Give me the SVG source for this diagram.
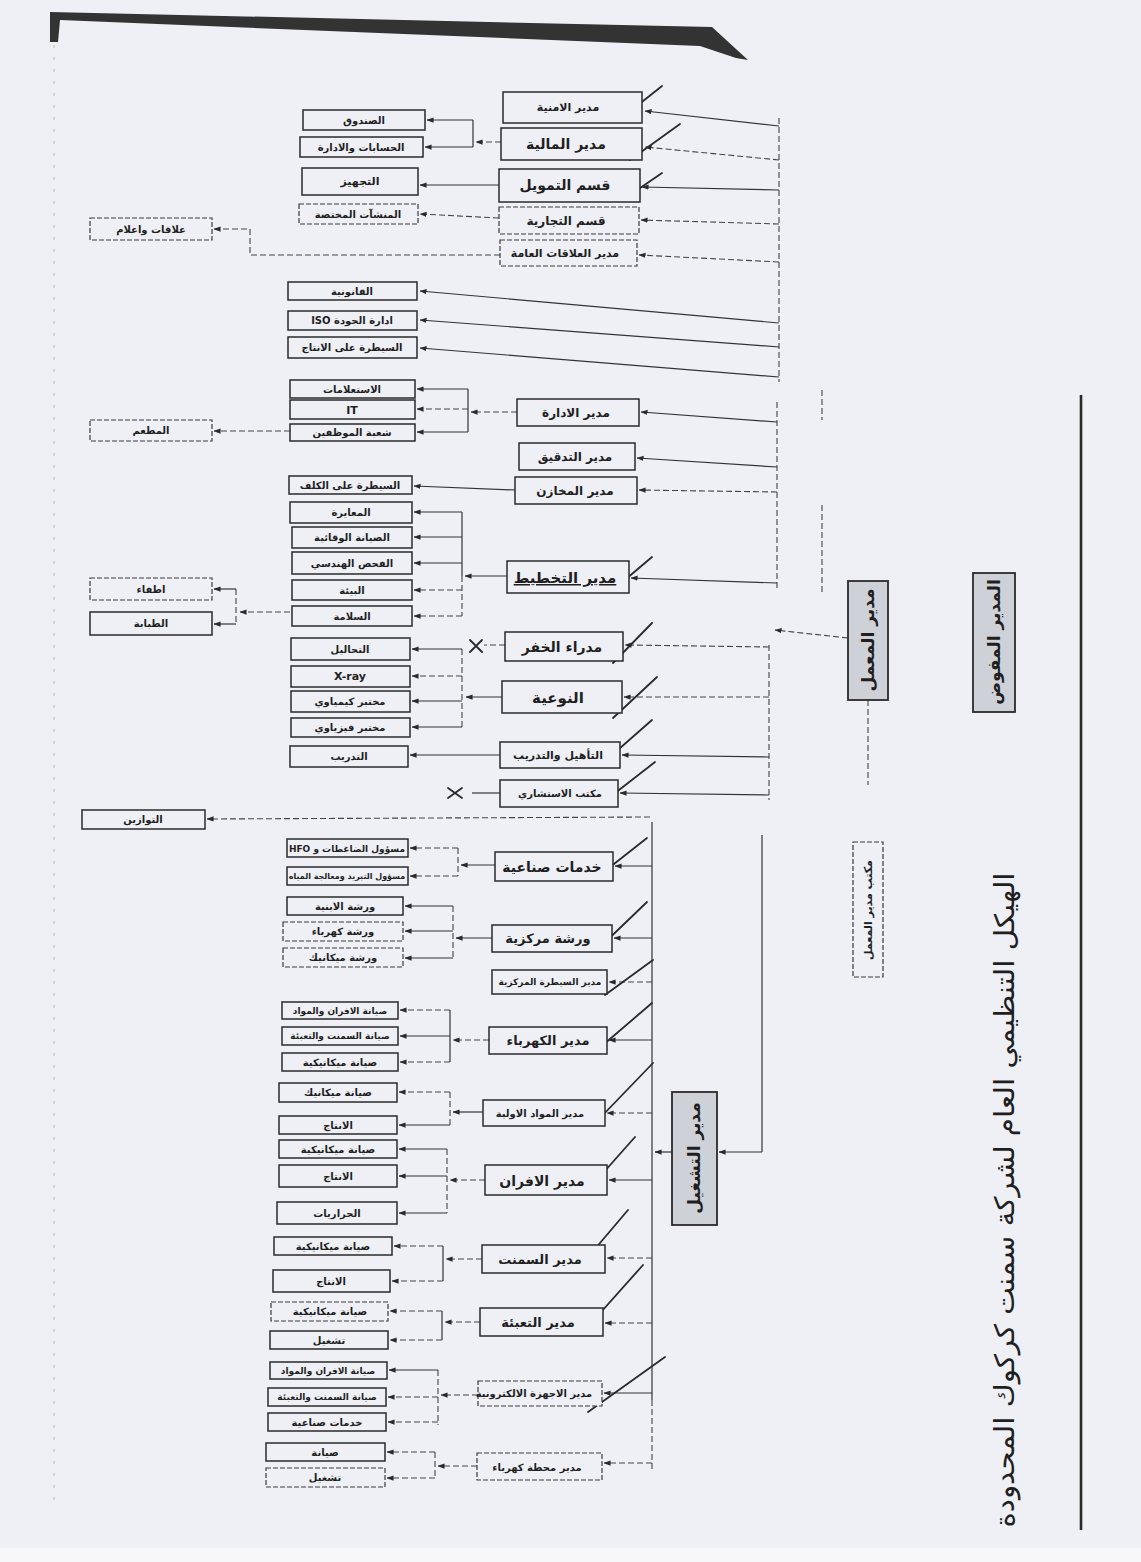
<svg xmlns="http://www.w3.org/2000/svg" width="1141" height="1562" viewBox="0 0 1141 1562">
<style>
.b{fill:#eef0f6;stroke:#2a2a2a;stroke-width:1.5}
.bd{fill:#eef0f6;stroke:#3a3a3a;stroke-width:1.2;stroke-dasharray:5 2}
.g{fill:#cfd1d8;stroke:#2a2a2a;stroke-width:1.8}
.t{font-family:"DejaVu Sans",sans-serif;font-weight:bold;fill:#1f1f1f;text-anchor:middle}
.title{font-family:"DejaVu Sans",sans-serif;font-weight:normal;fill:#1f1f1f;text-anchor:middle}
.l{fill:none;stroke:#333;stroke-width:1.2}
.d{fill:none;stroke:#444;stroke-width:1.1;stroke-dasharray:6 3}
.p{fill:none;stroke:#2a2a2a;stroke-width:1.8;stroke-linecap:round}
</style>
<defs>
<marker id="a" viewBox="0 0 8 8" refX="7.5" refY="4" markerWidth="7" markerHeight="7" markerUnits="userSpaceOnUse" orient="auto"><path d="M0,1 L8,4 L0,7 z" fill="#2a2a2a"/></marker>
</defs>
<rect width="1141" height="1562" fill="#eef0f6"/>
<rect x="0" y="1548" width="1141" height="14" fill="#f7f7f9"/>
<polygon points="50,12 712,27 748,60 736,58 700,46 60,20 58,42 50,42" fill="#333"/>
<line x1="54" y1="45" x2="54" y2="1500" stroke="#b8bac2" stroke-width="1" stroke-dasharray="3 9"/>
<line x1="1081" y1="395" x2="1081" y2="1530" stroke="#2a2a2a" stroke-width="2.6"/>
<text class="title" font-size="27" transform="translate(1014,1200) rotate(-90)" textLength="655" lengthAdjust="spacingAndGlyphs">الهيكل التنظيمي العام لشركة سمنت كركوك المحدودة</text>

<g id="connectors">
<path class="d" d="M779,118 V382"/>
<path class="d" d="M777,402 V590"/>
<path class="d" d="M822,390 V420 M822,505 V592"/>
<path class="d" d="M769,645 V800"/>
<path class="d" d="M868,700 V785"/>
<path class="l" d="M762,835 V1152"/>
<path class="l" d="M652,822 V1400"/>
<path class="d" d="M652,1400 V1470"/>
<path class="d" d="M848,638 L775,630" marker-end="url(#a)"/>
<path class="l" d="M762,1152 H719" marker-end="url(#a)"/>
<path class="l" d="M672,1152 H655" marker-end="url(#a)"/>
<path class="l" d="M779,126 L645,111" marker-end="url(#a)"/>
<path class="d" d="M779,160 L645,147" marker-end="url(#a)"/>
<path class="l" d="M779,190 L642,187" marker-end="url(#a)"/>
<path class="d" d="M779,224 L641,220" marker-end="url(#a)"/>
<path class="d" d="M779,262 L639,255" marker-end="url(#a)"/>
<path class="l" d="M779,323 L420,291" marker-end="url(#a)"/>
<path class="l" d="M779,347 L420,320" marker-end="url(#a)"/>
<path class="l" d="M779,377 L420,348" marker-end="url(#a)"/>
<path class="l" d="M777,422 L641,412" marker-end="url(#a)"/>
<path class="l" d="M777,467 L637,458" marker-end="url(#a)"/>
<path class="d" d="M777,492 L639,490" marker-end="url(#a)"/>
<path class="l" d="M777,583 L631,578" marker-end="url(#a)"/>
<path class="d" d="M769,647 L625,645" marker-end="url(#a)"/>
<path class="d" d="M769,697 L624,697" marker-end="url(#a)"/>
<path class="l" d="M769,757 L622,755" marker-end="url(#a)"/>
<path class="l" d="M769,795 L620,793" marker-end="url(#a)"/>
<path class="d" d="M501,142 H476" marker-end="url(#a)"/>
<path class="l" d="M473,120 V147"/>
<path class="l" d="M473,120 H427" marker-end="url(#a)"/>
<path class="l" d="M473,147 H425" marker-end="url(#a)"/>
<path class="l" d="M499,185 H420" marker-end="url(#a)"/>
<path class="d" d="M499,218 L420,214" marker-end="url(#a)"/>
<path class="d" d="M500,255 H250 V229 H214" marker-end="url(#a)"/>
<path class="d" d="M517,412 H471" marker-end="url(#a)"/>
<path class="l" d="M468,389 V432"/>
<path class="l" d="M468,389 H417" marker-end="url(#a)"/>
<path class="d" d="M468,409 H417" marker-end="url(#a)"/>
<path class="l" d="M468,432 H417" marker-end="url(#a)"/>
<path class="d" d="M290,431 H214" marker-end="url(#a)"/>
<path class="l" d="M515,490 L414,486" marker-end="url(#a)"/>
<path class="l" d="M507,576 H465" marker-end="url(#a)"/>
<path class="l" d="M462,512 V576"/>
<path class="d" d="M462,576 V616"/>
<path class="l" d="M462,512 H414" marker-end="url(#a)"/>
<path class="l" d="M462,537 H414" marker-end="url(#a)"/>
<path class="l" d="M462,563 H414" marker-end="url(#a)"/>
<path class="d" d="M462,590 H414" marker-end="url(#a)"/>
<path class="d" d="M462,616 H414" marker-end="url(#a)"/>
<path class="d" d="M290,612 H240" marker-end="url(#a)"/>
<path class="d" d="M236,589 V624"/>
<path class="l" d="M236,589 H214" marker-end="url(#a)"/>
<path class="l" d="M236,624 H214" marker-end="url(#a)"/>
<path class="d" d="M505,645 H484"/>
<path class="l" d="M502,697 H466" marker-end="url(#a)"/>
<path class="d" d="M462,649 V727"/>
<path class="l" d="M462,649 H412" marker-end="url(#a)"/>
<path class="d" d="M462,676 H412" marker-end="url(#a)"/>
<path class="l" d="M462,701 H412" marker-end="url(#a)"/>
<path class="l" d="M462,727 H412" marker-end="url(#a)"/>
<path class="l" d="M500,755 H410" marker-end="url(#a)"/>
<path class="l" d="M500,793 H472"/>
<path class="d" d="M650,817 L207,819" marker-end="url(#a)"/>
<path class="l" d="M652,866 H615" marker-end="url(#a)"/>
<path class="l" d="M652,938 H614" marker-end="url(#a)"/>
<path class="d" d="M652,982 H609" marker-end="url(#a)"/>
<path class="l" d="M652,1040 H609" marker-end="url(#a)"/>
<path class="d" d="M652,1113 H607" marker-end="url(#a)"/>
<path class="l" d="M652,1180 H609" marker-end="url(#a)"/>
<path class="d" d="M652,1258 H607" marker-end="url(#a)"/>
<path class="d" d="M652,1323 H605" marker-end="url(#a)"/>
<path class="l" d="M652,1393 H604" marker-end="url(#a)"/>
<path class="d" d="M652,1463 H604" marker-end="url(#a)"/>
<path class="l" d="M495,865 H461" marker-end="url(#a)"/>
<path class="d" d="M458,848 V876"/>
<path class="d" d="M458,848 H410" marker-end="url(#a)"/>
<path class="d" d="M458,876 H410" marker-end="url(#a)"/>
<path class="l" d="M492,938 H456" marker-end="url(#a)"/>
<path class="d" d="M453,906 V958"/>
<path class="l" d="M453,906 H405" marker-end="url(#a)"/>
<path class="l" d="M453,931 H405" marker-end="url(#a)"/>
<path class="l" d="M453,958 H405" marker-end="url(#a)"/>
<path class="d" d="M489,1040 H453" marker-end="url(#a)"/>
<path class="l" d="M450,1010 V1062"/>
<path class="d" d="M450,1010 H400" marker-end="url(#a)"/>
<path class="l" d="M450,1036 H400" marker-end="url(#a)"/>
<path class="d" d="M450,1062 H400" marker-end="url(#a)"/>
<path class="l" d="M483,1112 H453" marker-end="url(#a)"/>
<path class="d" d="M450,1092 V1125"/>
<path class="d" d="M450,1092 H399" marker-end="url(#a)"/>
<path class="l" d="M450,1125 H399" marker-end="url(#a)"/>
<path class="d" d="M485,1180 H450" marker-end="url(#a)"/>
<path class="d" d="M447,1149 V1213"/>
<path class="l" d="M447,1149 H399" marker-end="url(#a)"/>
<path class="l" d="M447,1176 H399" marker-end="url(#a)"/>
<path class="l" d="M447,1213 H399" marker-end="url(#a)"/>
<path class="d" d="M482,1259 H446" marker-end="url(#a)"/>
<path class="l" d="M443,1246 V1281"/>
<path class="d" d="M443,1246 H394" marker-end="url(#a)"/>
<path class="d" d="M443,1281 H392" marker-end="url(#a)"/>
<path class="d" d="M480,1322 H445" marker-end="url(#a)"/>
<path class="l" d="M442,1311 V1340"/>
<path class="d" d="M442,1311 H390" marker-end="url(#a)"/>
<path class="d" d="M442,1340 H390" marker-end="url(#a)"/>
<path class="d" d="M478,1395 H441" marker-end="url(#a)"/>
<path class="d" d="M438,1370 V1425"/>
<path class="l" d="M438,1370 H389" marker-end="url(#a)"/>
<path class="d" d="M438,1397 H388" marker-end="url(#a)"/>
<path class="d" d="M438,1422 H388" marker-end="url(#a)"/>
<path class="d" d="M477,1466 H438" marker-end="url(#a)"/>
<path class="d" d="M435,1452 V1478"/>
<path class="d" d="M435,1452 H387" marker-end="url(#a)"/>
<path class="d" d="M435,1478 H387" marker-end="url(#a)"/>
</g>

<g id="pen-marks">
<path class="p" d="M623,117 L662,86 M630,160 L680,124 M627,197 L662,173 M613,590 L652,557 M613,663 L652,623 M613,718 L657,677 M603,763 L652,720 M610,797 L655,762 M600,875 L647,838 M597,950 L647,902 M605,995 L653,960 M603,1045 L652,1003 M600,1118 L653,1063 M588,1190 L635,1137 M583,1263 L628,1210 M585,1330 L643,1265 M588,1412 L665,1357"/>
<path class="p" stroke-width="1.3" d="M470,640 L482,652 M470,652 L482,640 M448,788 L462,798 M448,798 L462,788"/>
</g>

<g id="n_mofawad"><rect class="g" x="973" y="573" width="42" height="139"/><text class="t" font-size="17" transform="translate(1000,642) rotate(-90)">المدير المفوض</text></g>
<g id="n_maamal"><rect class="g" x="848" y="581" width="40" height="119"/><text class="t" font-size="17" transform="translate(874,640) rotate(-90)">مدير المعمل</text></g>
<g id="n_maktab"><rect class="bd" x="853" y="842" width="30" height="135"/><text class="t" font-size="11" transform="translate(872,910) rotate(-90)">مكتب مدير المعمل</text></g>
<g id="n_tashgheel"><rect class="g" x="672" y="1092" width="45" height="133"/><text class="t" font-size="17" transform="translate(700,1158) rotate(-90)">مدير التشغيل</text></g>

<g id="n_amn"><rect class="b" x="503" y="92" width="139" height="31"/><text class="t" font-size="11" x="568" y="111">مدير الامنية</text></g>
<g id="n_mal"><rect class="b" x="501" y="128" width="141" height="32"/><text class="t" font-size="14" x="566" y="149">مدير المالية</text></g>
<g id="n_tam"><rect class="b" x="499" y="169" width="141" height="33"/><text class="t" font-size="14" x="565" y="190">قسم التمويل</text></g>
<g id="n_tij"><rect class="bd" x="499" y="207" width="140" height="27"/><text class="t" font-size="12" x="566" y="225">قسم التجارية</text></g>
<g id="n_ala"><rect class="bd" x="500" y="240" width="137" height="26"/><text class="t" font-size="11" x="565" y="257">مدير العلاقات العامة</text></g>
<g id="c_sand"><rect class="b" x="303" y="110" width="122" height="20"/><text class="t" font-size="10" x="364" y="124">الصندوق</text></g>
<g id="c_hes"><rect class="b" x="300" y="137" width="123" height="20"/><text class="t" font-size="10" x="361" y="151">الحسابات والادارة</text></g>
<g id="c_taj"><rect class="b" x="302" y="168" width="116" height="27"/><text class="t" font-size="11" x="360" y="185">التجهيز</text></g>
<g id="c_mun"><rect class="bd" x="299" y="204" width="119" height="20"/><text class="t" font-size="10" x="358" y="218">المنشآت المختصة</text></g>
<g id="c_ilam"><rect class="bd" x="90" y="218" width="122" height="22"/><text class="t" font-size="10" x="151" y="233">علاقات واعلام</text></g>
<g id="c_qan"><rect class="b" x="288" y="282" width="129" height="18"/><text class="t" font-size="10" x="352" y="295">القانونية</text></g>
<g id="c_iso"><rect class="b" x="288" y="311" width="129" height="19"/><text class="t" font-size="10" x="352" y="324" direction="rtl">ادارة الجودة ISO</text></g>
<g id="c_say"><rect class="b" x="288" y="337" width="129" height="21"/><text class="t" font-size="10" x="352" y="351">السيطرة على الانتاج</text></g>
<g id="c_ist"><rect class="b" x="290" y="380" width="125" height="18"/><text class="t" font-size="10" x="352" y="393">الاستعلامات</text></g>
<g id="c_it"><rect class="b" x="290" y="400" width="125" height="19"/><text class="t" font-size="11" x="352" y="414">IT</text></g>
<g id="c_muw"><rect class="b" x="290" y="424" width="125" height="17"/><text class="t" font-size="10" x="352" y="436">شعبة الموظفين</text></g>
<g id="c_mat"><rect class="bd" x="90" y="420" width="122" height="21"/><text class="t" font-size="10" x="151" y="434">المطعم</text></g>
<g id="n_ida"><rect class="b" x="517" y="399" width="122" height="27"/><text class="t" font-size="12" x="576" y="417">مدير الادارة</text></g>
<g id="n_tad"><rect class="b" x="519" y="443" width="116" height="27"/><text class="t" font-size="12" x="575" y="461">مدير التدقيق</text></g>
<g id="n_mak"><rect class="b" x="515" y="477" width="122" height="27"/><text class="t" font-size="12" x="575" y="495">مدير المخازن</text></g>
<g id="c_kul"><rect class="b" x="289" y="476" width="123" height="18"/><text class="t" font-size="10" x="350" y="489">السيطرة على الكلف</text></g>
<g id="c_mua"><rect class="b" x="290" y="502" width="122" height="21"/><text class="t" font-size="10" x="351" y="516">المعايرة</text></g>
<g id="c_siw"><rect class="b" x="292" y="527" width="120" height="21"/><text class="t" font-size="10" x="352" y="541">الصيانة الوقائية</text></g>
<g id="c_fah"><rect class="b" x="292" y="552" width="120" height="22"/><text class="t" font-size="10" x="352" y="567">الفحص الهندسي</text></g>
<g id="c_bia"><rect class="b" x="292" y="580" width="120" height="20"/><text class="t" font-size="10" x="352" y="594">البيئة</text></g>
<g id="c_sal"><rect class="b" x="292" y="606" width="120" height="20"/><text class="t" font-size="10" x="352" y="620">السلامة</text></g>
<g id="c_itf"><rect class="bd" x="90" y="578" width="122" height="22"/><text class="t" font-size="10" x="151" y="593">اطفاء</text></g>
<g id="c_tab"><rect class="b" x="90" y="612" width="122" height="23"/><text class="t" font-size="10" x="151" y="627">الطبابة</text></g>
<g id="n_tak"><rect class="b" x="507" y="561" width="122" height="32"/><text class="t" font-size="15" x="565" y="583" text-decoration="underline">مدير التخطيط</text></g>
<g id="n_khf"><rect class="b" x="505" y="632" width="118" height="29"/><text class="t" font-size="14" x="562" y="652">مدراء الخفر</text></g>
<g id="n_naw"><rect class="b" x="502" y="681" width="120" height="32"/><text class="t" font-size="15" x="558" y="703">النوعية</text></g>
<g id="c_tah"><rect class="b" x="291" y="638" width="119" height="22"/><text class="t" font-size="10" x="350" y="653">التحاليل</text></g>
<g id="c_xr"><rect class="b" x="291" y="666" width="119" height="21"/><text class="t" font-size="11" x="350" y="680">X-ray</text></g>
<g id="c_kim"><rect class="b" x="291" y="691" width="119" height="21"/><text class="t" font-size="10" x="350" y="705">مختبر كيمياوي</text></g>
<g id="c_fiz"><rect class="b" x="291" y="718" width="119" height="19"/><text class="t" font-size="10" x="350" y="731">مختبر فيزياوي</text></g>
<g id="c_tdr"><rect class="b" x="290" y="746" width="118" height="21"/><text class="t" font-size="10" x="349" y="760">التدريب</text></g>
<g id="n_taa"><rect class="b" x="500" y="742" width="120" height="26"/><text class="t" font-size="11" x="558" y="759">التأهيل والتدريب</text></g>
<g id="n_ist"><rect class="b" x="500" y="780" width="118" height="27"/><text class="t" font-size="10" x="560" y="797">مكتب الاستشاري</text></g>
<g id="c_taw"><rect class="b" x="82" y="810" width="123" height="19"/><text class="t" font-size="10" x="143" y="823">التوازين</text></g>

<g id="n_khd"><rect class="b" x="495" y="852" width="118" height="29"/><text class="t" font-size="14" x="552" y="872">خدمات صناعية</text></g>
<g id="c_daq"><rect class="b" x="287" y="839" width="121" height="18"/><text class="t" font-size="9" x="347" y="852" direction="rtl">مسؤول الضاغطات و HFO</text></g>
<g id="c_tbr"><rect class="b" x="287" y="867" width="121" height="18"/><text class="t" font-size="8" x="347" y="879">مسؤول التبريد ومعالجة المياه</text></g>
<g id="c_abn"><rect class="b" x="287" y="897" width="116" height="18"/><text class="t" font-size="10" x="345" y="910">ورشة الابنية</text></g>
<g id="c_kah"><rect class="bd" x="283" y="922" width="120" height="19"/><text class="t" font-size="10" x="343" y="935">ورشة كهرباء</text></g>
<g id="c_mik"><rect class="bd" x="283" y="948" width="120" height="19"/><text class="t" font-size="10" x="343" y="961">ورشة ميكانيك</text></g>
<g id="n_war"><rect class="b" x="492" y="925" width="120" height="27"/><text class="t" font-size="13" x="548" y="943">ورشة مركزية</text></g>
<g id="n_say"><rect class="b" x="492" y="970" width="115" height="24"/><text class="t" font-size="9" x="550" y="985">مدير السيطرة المركزية</text></g>
<g id="n_kah"><rect class="b" x="489" y="1027" width="118" height="27"/><text class="t" font-size="13" x="548" y="1045">مدير الكهرباء</text></g>
<g id="c_p1"><rect class="b" x="282" y="1002" width="116" height="17"/><text class="t" font-size="9" x="340" y="1014">صيانة الافران والمواد</text></g>
<g id="c_p2"><rect class="b" x="282" y="1027" width="116" height="18"/><text class="t" font-size="9" x="340" y="1039">صيانة السمنت والتعبئة</text></g>
<g id="c_p3"><rect class="b" x="282" y="1053" width="116" height="18"/><text class="t" font-size="10" x="340" y="1066">صيانة ميكانيكية</text></g>
<g id="n_maw"><rect class="b" x="483" y="1100" width="122" height="26"/><text class="t" font-size="10" x="540" y="1117">مدير المواد الاولية</text></g>
<g id="c_p4"><rect class="b" x="279" y="1083" width="118" height="19"/><text class="t" font-size="10" x="338" y="1096">صيانة ميكانيك</text></g>
<g id="c_p5"><rect class="b" x="279" y="1116" width="118" height="18"/><text class="t" font-size="10" x="338" y="1129">الانتاج</text></g>
<g id="n_afr"><rect class="b" x="485" y="1165" width="122" height="30"/><text class="t" font-size="14" x="542" y="1186">مدير الافران</text></g>
<g id="c_p6"><rect class="b" x="279" y="1140" width="118" height="18"/><text class="t" font-size="10" x="338" y="1153">صيانة ميكانيكية</text></g>
<g id="c_p7"><rect class="b" x="279" y="1165" width="118" height="22"/><text class="t" font-size="10" x="338" y="1180">الانتاج</text></g>
<g id="c_p8"><rect class="b" x="277" y="1202" width="120" height="22"/><text class="t" font-size="10" x="337" y="1217">الحراريات</text></g>
<g id="n_sam"><rect class="b" x="482" y="1245" width="123" height="28"/><text class="t" font-size="13" x="540" y="1264">مدير السمنت</text></g>
<g id="c_p9"><rect class="b" x="274" y="1237" width="118" height="18"/><text class="t" font-size="10" x="333" y="1250">صيانة ميكانيكية</text></g>
<g id="c_p10"><rect class="b" x="273" y="1270" width="117" height="22"/><text class="t" font-size="10" x="331" y="1285">الانتاج</text></g>
<g id="n_tab"><rect class="b" x="480" y="1308" width="123" height="28"/><text class="t" font-size="13" x="538" y="1327">مدير التعبئة</text></g>
<g id="c_p11"><rect class="bd" x="271" y="1302" width="117" height="19"/><text class="t" font-size="10" x="330" y="1315">صيانة ميكانيكية</text></g>
<g id="c_p12"><rect class="b" x="270" y="1331" width="118" height="18"/><text class="t" font-size="10" x="329" y="1344">تشغيل</text></g>
<g id="n_ajh"><rect class="bd" x="478" y="1381" width="124" height="25"/><text class="t" font-size="10" x="534" y="1397">مدير الاجهزة الالكترونية</text></g>
<g id="c_p13"><rect class="b" x="270" y="1362" width="117" height="17"/><text class="t" font-size="9" x="328" y="1374">صيانة الافران والمواد</text></g>
<g id="c_p14"><rect class="b" x="268" y="1388" width="118" height="18"/><text class="t" font-size="9" x="327" y="1400">صيانة السمنت والتعبئة</text></g>
<g id="c_p15"><rect class="b" x="268" y="1413" width="118" height="18"/><text class="t" font-size="10" x="327" y="1426">خدمات صناعية</text></g>
<g id="n_mah"><rect class="bd" x="477" y="1453" width="125" height="27"/><text class="t" font-size="10" x="537" y="1471">مدير محطة كهرباء</text></g>
<g id="c_p16"><rect class="b" x="266" y="1443" width="119" height="18"/><text class="t" font-size="10" x="325" y="1456">صيانة</text></g>
<g id="c_p17"><rect class="bd" x="266" y="1468" width="119" height="19"/><text class="t" font-size="10" x="325" y="1481">تشغيل</text></g>
</svg>
